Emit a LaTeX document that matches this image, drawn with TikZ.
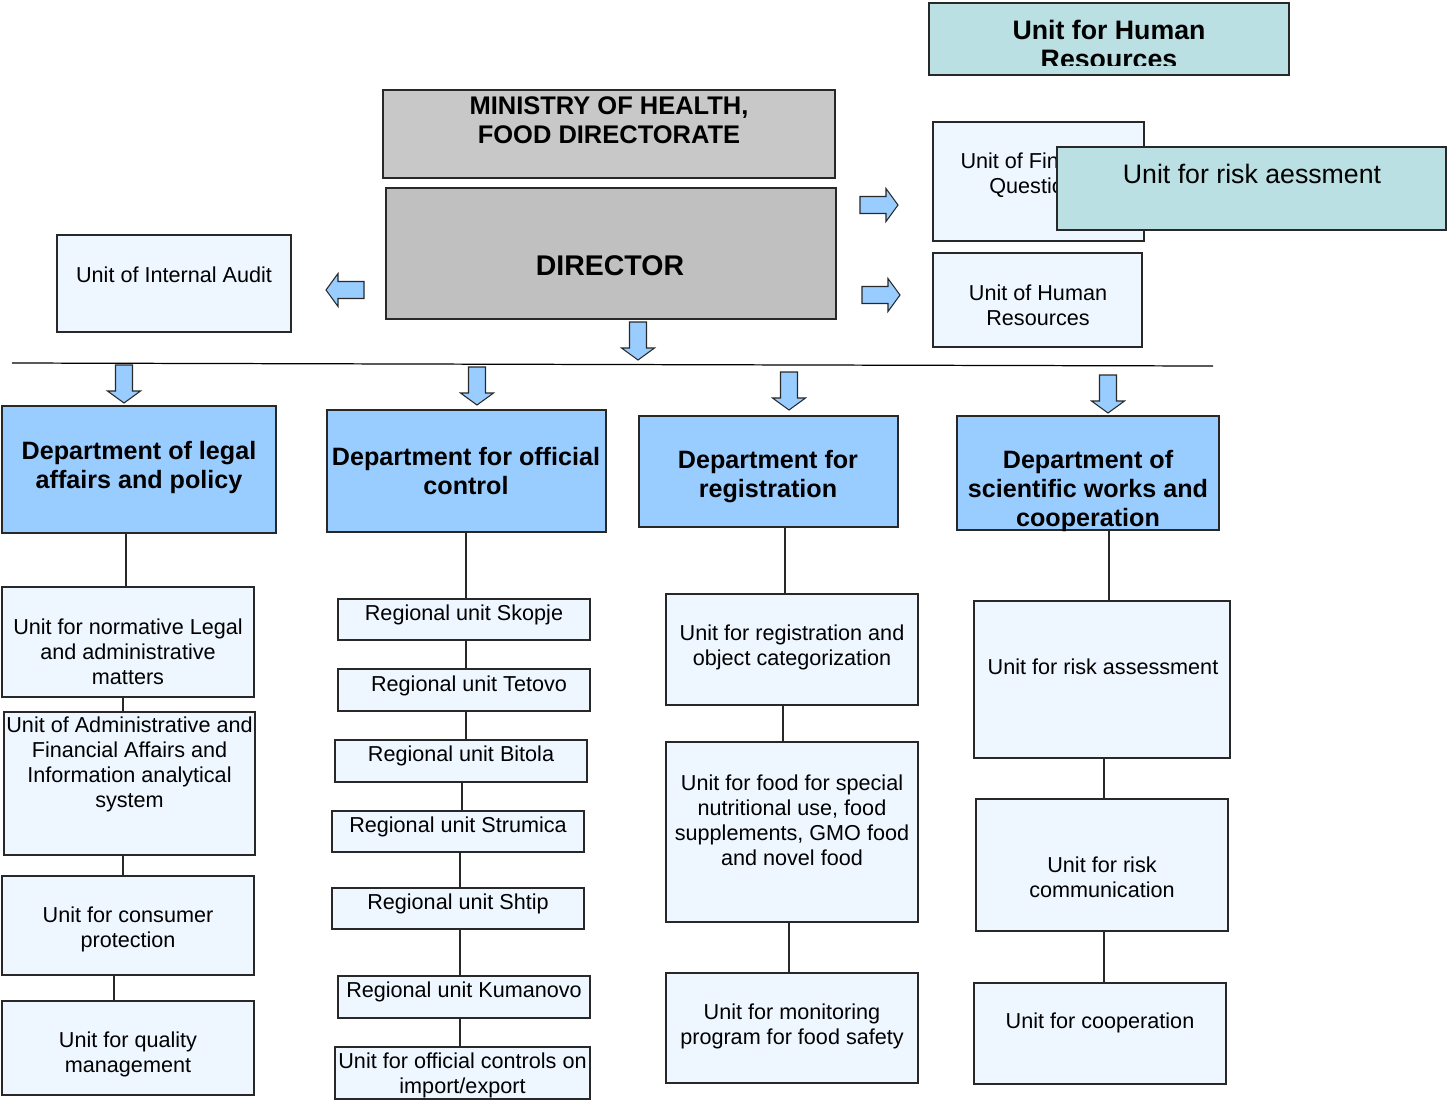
\documentclass[tikz,border=0pt]{standalone}
\usepackage{fontspec}
\setmainfont{Liberation Sans}
\usepackage{xcolor}
\definecolor{unitfill}{RGB}{238, 246, 255}
\definecolor{deptblue}{RGB}{153, 204, 255}
\definecolor{tealbox}{RGB}{186, 224, 227}
\definecolor{ministrygray}{RGB}{200, 200, 200}
\definecolor{directorgray}{RGB}{192, 192, 192}
\definecolor{edgegray}{RGB}{40, 40, 40}

\tikzset{
  box/.style 2 args={minimum width=#1*0.02cm, minimum height=#2*0.02cm},
  unit/.style={draw=edgegray, fill=unitfill, line width=0.7pt, inner sep=0pt},
  dept/.style={draw=edgegray, fill=deptblue, line width=0.7pt, inner sep=0pt},
  txt/.style={font=\fontsize{12.3}{14.2}\selectfont, align=center, inner sep=0pt, yshift=-0.04cm},
  depttxt/.style={font=\fontsize{14.3}{16.5}\selectfont\bfseries, align=center, inner sep=0pt, yshift=-0.03cm},
  link/.style={draw=edgegray, line width=0.7pt},
  arrowfill/.style={draw=edgegray, fill=deptblue, line width=0.6pt, line join=miter},
  pics/blockarrow/.style={code={
    \draw[arrowfill] (-8.5,0) -- (8.5,0) -- (8.5,26) -- (16.5,26) -- (0,38) -- (-16.5,26) -- (-8.5,26) -- cycle;
  }}
}

\begin{document}
\begin{tikzpicture}[x=0.02cm, y=-0.02cm]
    \useasboundingbox (0,0) rectangle (1447,1100);

    % Top management
    \node[draw=edgegray, fill=tealbox, line width=0.7pt, box={360}{72}] (hrtop) at (1109,39) {};
    \begin{scope}
        \clip (929,3) rectangle (1289,65);
        \node[font=\fontsize{15.2}{16.8}\selectfont\bfseries, align=center, inner sep=0pt] (hrtoptext) at (1109,44.5) {Unit for Human\\Resources};
    \end{scope}

    \node[draw=edgegray, fill=ministrygray, line width=0.7pt, box={452}{88}] (ministry) at (609,134) {};
    \node[font=\fontsize{14.5}{16.4}\selectfont\bfseries, align=center, inner sep=0pt] (ministrytext) at (609,120.5) {MINISTRY OF HEALTH,\\FOOD DIRECTORATE};

    \node[draw=edgegray, fill=directorgray, line width=0.7pt, box={450}{131}] (director) at (611,253.5) {};
    \node[font=\fontsize{16.2}{19}\selectfont\bfseries, inner sep=0pt] (directortext) at (610,266) {DIRECTOR};

    % Staff units
    \node[unit, box={234}{97}] (audit) at (174,283.5) {};
    \node[txt] (audittext) at (174,273) {Unit of Internal Audit};

    \node[unit, box={211}{119}] (finance) at (1038.5,181.5) {};
    \node[txt] (financetext) at (1038,173) {Unit of Financial\\Questions};

    \node[draw=edgegray, fill=tealbox, line width=0.7pt, box={389}{83}] (riskteal) at (1251.5,188.5) {};
    \node[font=\fontsize{15.2}{17}\selectfont, inner sep=0pt] (risktealtext) at (1252,174) {Unit for risk aessment};

    \node[unit, box={209}{94}] (hr) at (1037.5,300) {};
    \node[txt] (hrtext) at (1038,303.5) {Unit of Human\\Resources};

    % Block arrows from the director
    \pic[rotate=-90] at (364,290) {blockarrow};
    \pic[rotate=90] at (860,205) {blockarrow};
    \pic[rotate=90] at (862,295) {blockarrow};
    \pic at (638,322) {blockarrow};

    \draw[line width=0.7pt, draw=black] (12,363) -- (1213,366);

    \pic at (124,365) {blockarrow};
    \pic at (477,367) {blockarrow};
    \pic at (789,372) {blockarrow};
    \pic at (1108,375) {blockarrow};

    % Departments
    \node[dept, box={274}{127}] (d1) at (139,469.5) {};
    \node[depttxt] (d1text) at (139,466) {Department of legal\\affairs and policy};

    \node[dept, box={279}{122}] (d2) at (466.5,471) {};
    \node[depttxt] (d2text) at (466,469.5) {Department for official\\control};

    \node[dept, box={259}{111}] (d3) at (768.5,471.5) {};
    \node[depttxt] (d3text) at (768,475.5) {Department for\\registration};

    \node[dept, box={262}{114}] (d4) at (1088,473) {};
    \node[depttxt] (d4text) at (1088,489.5) {Department of\\scientific works and\\cooperation};

    % Legal affairs units
    \node[unit, box={252}{110}] (u1a) at (128,642) {};
    \node[txt] (u1atext) at (128,650) {Unit for normative Legal\\and administrative\\matters};
    \node[unit, box={251}{143}] (u1b) at (129.5,783.5) {};
    \node[txt] (u1btext) at (129.5,762) {Unit of Administrative and\\Financial Affairs and\\Information analytical\\system};
    \node[unit, box={252}{99}] (u1c) at (128,925.5) {};
    \node[txt] (u1ctext) at (128,927) {Unit for consumer\\protection};
    \node[unit, box={252}{94}] (u1d) at (128,1048) {};
    \node[txt] (u1dtext) at (128,1052.5) {Unit for quality\\management};

    \draw[link] (d1.south -| 126,0) -- (u1a.north -| 126,0);
    \draw[link] (u1a.south -| 123,0) -- (u1b.north -| 123,0);
    \draw[link] (u1b.south -| 123,0) -- (u1c.north -| 123,0);
    \draw[link] (u1c.south -| 114,0) -- (u1d.north -| 114,0);

    % Official control units
    \node[unit, box={252}{41}] (r1) at (464,619.5) {};
    \node[txt] (r1text) at (464,613) {Regional unit Skopje};
    \node[unit, box={252}{42}] (r2) at (464,690) {};
    \node[txt] (r2text) at (469,684) {Regional unit Tetovo};
    \node[unit, box={252}{42}] (r3) at (461,761) {};
    \node[txt] (r3text) at (461,754) {Regional unit Bitola};
    \node[unit, box={252}{41}] (r4) at (458,831.5) {};
    \node[txt] (r4text) at (458,825) {Regional unit Strumica};
    \node[unit, box={252}{41}] (r5) at (458,908.5) {};
    \node[txt] (r5text) at (458,902) {Regional unit Shtip};
    \node[unit, box={252}{42}] (r6) at (464,997) {};
    \node[txt] (r6text) at (464,990) {Regional unit Kumanovo};
    \node[unit, box={255}{52}] (r7) at (462.5,1073) {};
    \node[txt] (r7text) at (462.5,1073.5) {Unit for official controls on\\import/export};

    \draw[link] (d2.south -| 466,0) -- (r1.north -| 466,0);
    \draw[link] (r1.south -| 466,0) -- (r2.north -| 466,0);
    \draw[link] (r2.south -| 466,0) -- (r3.north -| 466,0);
    \draw[link] (r3.south -| 462,0) -- (r4.north -| 462,0);
    \draw[link] (r4.south -| 460,0) -- (r5.north -| 460,0);
    \draw[link] (r5.south -| 460,0) -- (r6.north -| 460,0);
    \draw[link] (r6.south -| 460,0) -- (r7.north -| 460,0);

    % Registration units
    \node[unit, box={252}{111}] (u3a) at (792,649.5) {};
    \node[txt] (u3atext) at (792,645.5) {Unit for registration and\\object categorization};
    \node[unit, box={252}{180}] (u3b) at (792,832) {};
    \node[txt] (u3btext) at (792,818.5) {Unit for food for special\\nutritional use, food\\supplements, GMO food\\and novel food};
    \node[unit, box={252}{110}] (u3c) at (792,1028) {};
    \node[txt] (u3ctext) at (792,1024.5) {Unit for monitoring\\program for food safety};

    \draw[link] (d3.south -| 785,0) -- (u3a.north -| 785,0);
    \draw[link] (u3a.south -| 783,0) -- (u3b.north -| 783,0);
    \draw[link] (u3b.south -| 789,0) -- (u3c.north -| 789,0);

    % Scientific works units
    \node[unit, box={256}{157}] (u4a) at (1102,679.5) {};
    \node[txt] (u4atext) at (1103,665) {Unit for risk assessment};
    \node[unit, box={252}{132}] (u4b) at (1102,865) {};
    \node[txt] (u4btext) at (1102,875) {Unit for risk\\communication};
    \node[unit, box={252}{101}] (u4c) at (1100,1033.5) {};
    \node[txt] (u4ctext) at (1100,1021) {Unit for cooperation};

    \draw[link] (d4.south -| 1109,0) -- (u4a.north -| 1109,0);
    \draw[link] (u4a.south -| 1104,0) -- (u4b.north -| 1104,0);
    \draw[link] (u4b.south -| 1104,0) -- (u4c.north -| 1104,0);
\end{tikzpicture}
\end{document}
